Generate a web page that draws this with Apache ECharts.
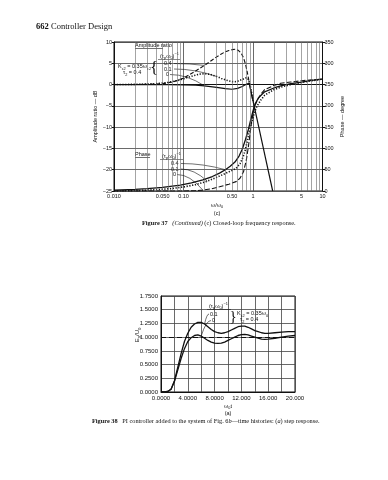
<!DOCTYPE html>
<html><head><meta charset="utf-8">
<script src="https://cdn.jsdelivr.net/npm/echarts/dist/echarts.min.js"></script>
<style>html,body{margin:0;padding:0;background:#fff}#c{width:388px;height:480px}</style>
</head><body><div id="c"></div>
<script>
// ---------- Figure 37(c): closed-loop frequency response ----------
const freqMainLabels = {0.01: '0.010', 0.1: '0.10', 1: '1', 10: '10'};
const freqExtraLabels = {0.05: '0.050', 0.5: '0.50', 5: '5'};
const freqMinorLines = [0.02,0.03,0.04,0.05,0.06,0.07,0.08,0.09,0.2,0.3,0.4,0.5,0.6,0.7,0.8,0.9,2,3,4,5,6,7,8,9];

// amplitude ratio, dB  [omega/omega0, dB]
const ampZero = [[0.01,0],[0.03,0],[0.06,-0.02],[0.1,-0.05],[0.15,-0.15],[0.2,-0.3],[0.3,-0.65],[0.4,-0.95],[0.5,-1.1],[0.6,-0.9],[0.7,-0.45],[0.8,0.1],[0.88,0.3],[1.0,-3.8],[1.2,-9.7],[1.5,-17],[1.92,-25]];
const ampPoint1 = [[0.01,0],[0.02,0.05],[0.03,0.12],[0.04,0.22],[0.06,0.5],[0.08,0.9],[0.1,1.35],[0.13,1.95],[0.17,2.45],[0.2,2.55],[0.24,2.4],[0.3,1.9],[0.35,1.45],[0.4,1.1],[0.45,0.85],[0.5,0.7],[0.55,0.68],[0.6,0.8],[0.7,1.2],[0.78,1.55],[0.84,1.5],[0.9,0.2],[0.95,-1.8],[1.0,-3.8]];
const ampPoint4 = [[0.01,0],[0.02,0.02],[0.03,0.06],[0.05,0.22],[0.07,0.6],[0.1,1.5],[0.14,2.9],[0.2,4.5],[0.25,5.6],[0.3,6.5],[0.35,7.2],[0.4,7.7],[0.45,8.0],[0.5,8.2],[0.56,8.3],[0.62,8.0],[0.68,7.3],[0.73,6.3],[0.78,4.8],[0.82,3.2],[0.86,1.5],[0.9,-0.3],[0.95,-2.2],[1.0,-3.8]];

// phase, degree  [omega/omega0, deg]
const phaseUpper = [[0.01,2],[0.02,4],[0.03,5.5],[0.05,8.5],[0.09,14],[0.13,19],[0.19,26],[0.26,34],[0.33,42],[0.4,50],[0.47,58],[0.55,68],[0.63,82],[0.7,98],[0.78,121],[0.86,145],[0.93,168],[1.0,188],[1.07,204],[1.2,219],[1.47,233],[2.0,242],[2.5,247],[3.5,252],[5,256],[7,260],[10,263]];
const phaseMiddle = [[0.01,0],[0.022,1],[0.04,3],[0.065,5.5],[0.1,9.5],[0.15,15],[0.22,23],[0.33,35],[0.45,45],[0.57,53],[0.65,64],[0.72,80],[0.78,98],[0.84,122],[0.9,145],[0.96,163],[1.04,182],[1.13,198],[1.3,214],[1.47,225],[2.0,238],[2.5,244],[3.5,250],[5,255],[7,259],[10,263]];
const phaseLower = [[0.01,0],[0.1,0],[0.15,1],[0.19,2],[0.25,5],[0.33,10],[0.45,16],[0.57,22],[0.65,30],[0.73,45],[0.8,72],[0.86,105],[0.9,130],[0.95,160],[1.0,183],[1.07,200],[1.13,210],[1.3,228],[1.47,238],[2.0,248],[2.5,253],[3.5,256],[5,259],[7,261],[10,263]];

// ---------- Figure 38(a): step response ----------
const stepTime = [0,0.5,1,1.5,2,2.5,3,3.5,4,4.5,5,5.5,6,6.5,7,7.5,8,8.5,9,9.5,10,10.5,11,11.5,12,12.5,13,13.5,14,14.5,15,15.5,16,17,18,19,20];
const stepPoint1 = [0,0,0.01,0.05,0.2,0.45,0.7,0.92,1.07,1.18,1.24,1.27,1.27,1.24,1.19,1.14,1.1,1.08,1.07,1.08,1.1,1.13,1.16,1.19,1.2,1.2,1.18,1.15,1.12,1.1,1.08,1.07,1.07,1.08,1.09,1.1,1.1];
const stepZero = [0,0,0.01,0.05,0.19,0.4,0.61,0.79,0.92,0.99,1.03,1.04,1.02,0.98,0.94,0.91,0.89,0.885,0.89,0.91,0.94,0.97,1.0,1.03,1.045,1.05,1.04,1.02,1.0,0.98,0.965,0.96,0.965,0.98,1.0,1.02,1.03];

const SANS = '"Liberation Sans", Arial, sans-serif';
const SERIF = '"Liberation Serif", "Times New Roman", serif';
const INK = '#111';
const GRIDC = '#444';

const chart = echarts.init(document.getElementById('c'), null, {renderer: 'canvas'});

const minorMarkData = freqMinorLines.map(v => {
  const lab = freqExtraLabels[v];
  return {
    xAxis: v,
    label: lab ? {show: true, position: 'start', formatter: lab, distance: 2, fontSize: 5.5, fontFamily: SANS, color: INK} : {show: false}
  };
});

const stepSeries = (vals) => stepTime.map((t, i) => [t, vals[i]]);

const tickLabel = {fontSize: 5.5, fontFamily: SANS, color: INK};

chart.setOption({
  animation: false,
  backgroundColor: '#fff',
  grid: [
    {left: 114, top: 42, width: 208.5, height: 149, show: true, borderColor: INK, borderWidth: 1, containLabel: false},
    {left: 161, top: 296, width: 134, height: 96, show: true, borderColor: INK, borderWidth: 1, containLabel: false}
  ],
  xAxis: [
    {type: 'log', logBase: 10, min: 0.01, max: 10, gridIndex: 0,
     axisLine: {show: true, lineStyle: {color: INK}}, axisTick: {show: false},
     axisLabel: Object.assign({margin: 2, formatter: v => freqMainLabels[Math.round(v * 1000) / 1000] || ''}, tickLabel),
     splitLine: {show: true, lineStyle: {color: GRIDC, width: 0.8}}},
    {type: 'value', min: 0, max: 20, interval: 2, gridIndex: 1,
     axisLine: {show: true, lineStyle: {color: INK}}, axisTick: {show: false},
     axisLabel: {margin: 3, fontSize: 6, fontFamily: SANS, color: INK,
       formatter: v => (v % 4 === 0) ? (v < 10 ? v.toFixed(4) : v.toFixed(3)) : ''},
     splitLine: {show: true, lineStyle: {color: GRIDC, width: 0.8}}}
  ],
  yAxis: [
    {type: 'value', min: -25, max: 10, interval: 5, gridIndex: 0, position: 'left',
     axisLine: {show: true, lineStyle: {color: INK}}, axisTick: {show: true, length: 2, lineStyle: {color: INK}},
     axisLabel: Object.assign({margin: 2, formatter: v => v < 0 ? '\u2212' + (-v) : String(v)}, tickLabel),
     splitLine: {show: true, lineStyle: {color: GRIDC, width: 0.8}}},
    {type: 'value', min: 0, max: 350, interval: 50, gridIndex: 0, position: 'right',
     axisLine: {show: true, lineStyle: {color: INK}}, axisTick: {show: true, length: 3, lineStyle: {color: INK}},
     axisLabel: Object.assign({margin: 2}, tickLabel),
     splitLine: {show: false}},
    {type: 'value', min: 0, max: 1.75, interval: 0.25, gridIndex: 1,
     axisLine: {show: true, lineStyle: {color: INK}}, axisTick: {show: false},
     axisLabel: {margin: 3, fontSize: 6, fontFamily: SANS, color: INK, formatter: v => v.toFixed(4)},
     splitLine: {show: true, lineStyle: {color: GRIDC, width: 0.8}}}
  ],
  series: [
    {type: 'line', xAxisIndex: 0, yAxisIndex: 0, data: ampZero, showSymbol: false, silent: true,
     lineStyle: {color: INK, width: 1.2},
     markLine: {silent: true, symbol: 'none', animation: false,
       lineStyle: {color: '#666', width: 0.6, type: 'solid'}, data: minorMarkData}},
    {type: 'line', xAxisIndex: 0, yAxisIndex: 0, data: ampPoint1, showSymbol: false, silent: true,
     lineStyle: {color: INK, width: 1.6, type: [1.2, 1.6]}},
    {type: 'line', xAxisIndex: 0, yAxisIndex: 0, data: ampPoint4, showSymbol: false, silent: true,
     lineStyle: {color: INK, width: 1.1, type: [4, 2]}},
    {type: 'line', xAxisIndex: 0, yAxisIndex: 1, data: phaseUpper, showSymbol: false, silent: true,
     lineStyle: {color: INK, width: 1.3}},
    {type: 'line', xAxisIndex: 0, yAxisIndex: 1, data: phaseMiddle, showSymbol: false, silent: true,
     lineStyle: {color: INK, width: 1.6, type: [1.2, 1.6]}},
    {type: 'line', xAxisIndex: 0, yAxisIndex: 1, data: phaseLower, showSymbol: false, silent: true,
     lineStyle: {color: INK, width: 1.1, type: [5, 2]}},
    {type: 'line', xAxisIndex: 1, yAxisIndex: 2, data: stepSeries(stepPoint1), showSymbol: false, silent: true,
     lineStyle: {color: INK, width: 1.3},
     markLine: {silent: true, symbol: 'none', animation: false, label: {show: false},
       lineStyle: {color: INK, width: 1, type: [5, 3]}, data: [{yAxis: 1}]}},
    {type: 'line', xAxisIndex: 1, yAxisIndex: 2, data: stepSeries(stepZero), showSymbol: false, silent: true,
     lineStyle: {color: INK, width: 1.3}}
  ]
});

// ---------- annotations ----------
const px = (axes, pt) => chart.convertToPixel(axes, pt);
const AMP = {xAxisIndex: 0, yAxisIndex: 0};
const PH = {xAxisIndex: 0, yAxisIndex: 1};
const STEP = {xAxisIndex: 1, yAxisIndex: 2};

function txt(x, y, text, opt) {
  opt = opt || {};
  return {type: 'text', x: x, y: y, rotation: opt.rot || 0, silent: true,
    style: {text: text, fill: INK, font: (opt.weight || 'normal') + ' ' + (opt.size || 5.5) + 'px ' + (opt.family || SANS),
      align: opt.align || 'left', verticalAlign: 'middle', rich: opt.rich}};
}
function line(x1, y1, x2, y2, w) {
  return {type: 'line', silent: true, shape: {x1, y1, x2, y2}, style: {stroke: INK, lineWidth: w || 0.6}};
}
function curve(x1, y1, target, w) {
  const [x2, y2] = target;
  return {type: 'bezierCurve', silent: true,
    shape: {x1, y1, x2, y2, cpx1: (x1 + x2) / 2, cpy1: y1},
    style: {stroke: INK, lineWidth: w || 0.6, fill: null}};
}
const subRich = (size) => ({
  n: {fontSize: size, fontFamily: SANS, fill: INK, lineHeight: size + 3, verticalAlign: 'middle'},
  s: {fontSize: size * 0.7, fontFamily: SANS, fill: INK, lineHeight: size + 3, verticalAlign: 'bottom'},
  p: {fontSize: size * 0.7, fontFamily: SANS, fill: INK, lineHeight: size + 3, verticalAlign: 'top'}
});
const tauLabel = '{n|(τ}{s|p}{n|ω}{s|0}{n|)}{p|−1}';

const g = [];
// header
g.push(txt(36, 27, '662', {size: 8.5, weight: 'bold', family: SERIF}));
g.push(txt(51, 27, 'Controller Design', {size: 8.5, family: SERIF}));

// fig 37 axis titles
g.push(txt(95, 116.5, 'Amplitude ratio \u2014 dB', {rot: Math.PI / 2, align: 'center', size: 5.5}));
g.push(txt(342, 116.5, 'Phase \u2014 degree', {rot: Math.PI / 2, align: 'center', size: 5.5}));
g.push(txt(217, 205, '{n|ω/ω}{s|0}', {align: 'center', rich: subRich(5.5)}));
g.push(txt(217, 213, '(c)', {align: 'center', size: 5.5}));
g.push(txt(142, 223, '{b|Figure 37}   {i|(Continued)} (c) Closed-loop frequency response.', {size: 6.3, family: SERIF,
  rich: {b: {fontWeight: 'bold', fontSize: 6.3, fontFamily: SERIF, fill: INK},
         i: {fontStyle: 'italic', fontSize: 6.3, fontFamily: SERIF, fill: INK}}}));

// amplitude annotation
g.push(txt(135, 45, 'Amplitude ratio', {size: 5.5}));
g.push(line(135, 48.5, 163, 48.5));
g.push(txt(160, 56, tauLabel, {rich: subRich(5.5)}));
g.push(line(158, 59.5, 180, 59.5, 0.5));
g.push(txt(164, 63.5, '0.4', {size: 5.5}));
g.push(txt(164, 69, '0.1', {size: 5.5}));
g.push(txt(166, 74.5, '0', {size: 5.5}));
g.push(txt(154, 69, '{', {size: 17, align: 'center', family: SERIF}));
g.push(txt(118, 66.5, '{n|K}{s|c2}{n| = 0.35ω}{s|c2}', {rich: subRich(5.5)}));
g.push(txt(123, 72.5, '{n|τ}{s|2}{n| = 0.4}', {rich: subRich(5.5)}));
g.push(curve(174, 63.5, px(AMP, [0.2, 4.5])));
g.push(curve(174, 69, px(AMP, [0.3, 1.9])));
g.push(curve(170, 74.5, px(AMP, [0.2, -0.3])));

// phase annotation
g.push(txt(135, 154, 'Phase', {size: 5.5}));
g.push(line(135, 157.5, 150, 157.5));
g.push(txt(162, 156, tauLabel, {rich: subRich(5.5)}));
g.push(line(160, 159.5, 183, 159.5, 0.5));
g.push(txt(171, 163.5, '0.4', {size: 5.5}));
g.push(txt(171, 169, '0.1', {size: 5.5}));
g.push(txt(173, 174.5, '0', {size: 5.5}));
g.push(curve(181, 163.5, px(PH, [0.4, 50])));
g.push(curve(181, 169, px(PH, [0.22, 23])));
g.push(curve(177, 174.5, px(PH, [0.19, 2])));

// fig 38
g.push(txt(137, 335, '{n|E}{s|0}{n|/U}{s|0}', {rot: Math.PI / 2, align: 'center', rich: subRich(6)}));
g.push(txt(228, 406, '{n|ω}{s|0}{n|t}', {align: 'center', rich: subRich(5.5)}));
g.push(txt(228, 413.5, '(a)', {align: 'center', size: 5.5}));
g.push(txt(92, 421.5, '{b|Figure 38}   PI controller added to the system of Fig. 6{i|b}\u2014time histories: ({i|a}) step response.', {size: 6.3, family: SERIF,
  rich: {b: {fontWeight: 'bold', fontSize: 6.3, fontFamily: SERIF, fill: INK},
         i: {fontStyle: 'italic', fontSize: 6.3, fontFamily: SERIF, fill: INK}}}));
g.push(txt(209, 306, tauLabel, {rich: subRich(5.5)}));
g.push(line(207, 309.5, 231, 309.5, 0.5));
g.push(txt(210, 314, '0.1', {size: 5.5}));
g.push(txt(212, 320.5, '0', {size: 5.5}));
g.push(txt(233, 317, '}', {size: 15, align: 'center', family: SERIF}));
g.push(txt(237, 313.5, '{n|K}{s|c2}{n| = 0.35ω}{s|0}', {rich: subRich(5.5)}));
g.push(txt(240, 319.5, '{n|τ}{s|2}{n| = 0.4}', {rich: subRich(5.5)}));
g.push(curve(209, 314, px(STEP, [6.5, 1.24])));
g.push(curve(211, 320.5, px(STEP, [6, 1.02])));

chart.setOption({graphic: g});
</script>
</body></html>
